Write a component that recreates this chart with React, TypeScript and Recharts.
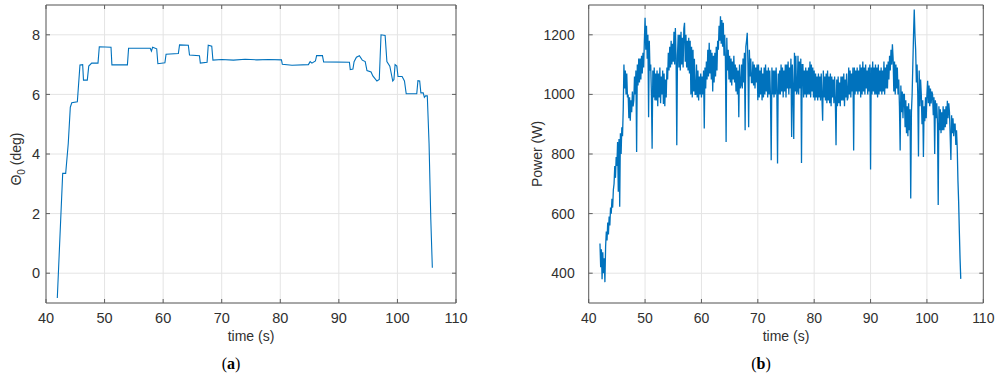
import { LineChart, Line, XAxis, YAxis, CartesianGrid, ReferenceLine } from 'recharts'

const timeTicks = [40, 50, 60, 70, 80, 90, 100, 110]
const thetaTicks = [0, 2, 4, 6, 8]
const powerTicks = [400, 600, 800, 1000, 1200]

// collective pitch trace (a), read at the step changes
const thetaTime = [
  41.93, 42.85, 43.36, 43.8, 44.15, 44.4, 45.35, 45.8, 46.26, 46.4, 47.05, 47.3, 47.8, 48.88,
  49.1, 51.1, 51.25, 53.9, 54.1, 57.8, 58.0, 58.2, 58.9, 59.1, 60.3, 60.5, 62.6, 62.8, 64.3,
  64.5, 66.2, 66.35, 67.5, 67.7, 68.3, 68.5, 70, 72, 74, 76, 78, 80.2, 80.35, 82, 84.8, 85.1,
  85.4, 86.0, 86.2, 87.2, 87.4, 91.8, 91.95, 92.4, 92.6, 93.0, 93.5, 94.0, 94.5, 94.8, 95.5,
  95.8, 96.5, 96.9, 97.2, 97.9, 98.2, 98.7, 99.2, 99.4, 99.6, 99.9, 100.1, 100.8, 101.2, 101.5,
  103.3, 103.5, 103.8, 104.0, 104.4, 104.6, 104.8, 105.1, 105.4, 105.7, 105.96,
]
const thetaDeg = [
  -0.83, 3.35, 3.35, 4.35, 5.57, 5.72, 5.75, 6.99, 7.0, 6.48, 6.48, 6.95, 7.05, 7.05,
  7.6, 7.58, 6.99, 6.99, 7.55, 7.55, 7.45, 7.58, 7.53, 7.03, 7.06, 7.35, 7.37, 7.66, 7.65,
  7.32, 7.3, 7.05, 7.08, 7.65, 7.62, 7.15, 7.17, 7.15, 7.18, 7.16, 7.17, 7.16, 7.01, 6.98, 7.0, 7.1,
  7.05, 7.12, 7.3, 7.3, 7.09, 7.08, 6.83, 6.85, 7.1, 7.25, 7.3, 7.15, 7.1, 6.8, 6.75,
  6.62, 6.45, 6.5, 8.0, 7.98, 7.1, 6.95, 6.45, 6.5, 7.0, 6.95, 6.6, 6.6, 6.45, 6.02,
  6.02, 6.46, 6.45, 6.05, 6.05, 5.9, 5.95, 5.95, 4.35, 1.79, 0.18,
]

// power trace (b), eight readings per second
const powerSeconds = [
  42, 43, 44, 45, 46, 47, 48, 49, 50, 51, 52, 53, 54, 55, 56, 57, 58, 59, 60, 61, 62, 63, 64,
  65, 66, 67, 68, 69, 70, 71, 72, 73, 74, 75, 76, 77, 78, 79, 80, 81, 82, 83, 84, 85, 86, 87,
  88, 89, 90, 91, 92, 93, 94, 95, 96, 97, 98, 99, 100, 101, 102, 103, 104, 105, 106,
]
const powerW = [
  [500, 420, 480, 380, 470, 400, 450, 370],
  [490, 540, 510, 570, 530, 590, 560, 620],
  [600, 650, 620, 680, 700, 760, 720, 790],
  [760, 840, 673, 850, 623, 870, 800, 890],
  [860, 950, 1100, 1020, 1080, 1000, 1070, 990],
  [1000, 920, 990, 912, 980, 940, 1010, 960],
  [980, 1060, 1000, 1080, 807, 1100, 1030, 1120],
  [1040, 1120, 1050, 1130, 1070, 1140, 1090, 1180],
  [1257, 1150, 1230, 1120, 1200, 923, 1180, 1080],
  [1100, 1000, 818, 1080, 990, 1090, 980, 1070],
  [980, 1080, 960, 1070, 990, 1090, 970, 1060],
  [1000, 1080, 968, 1070, 960, 1050, 990, 1090],
  [1050, 1140, 1080, 1160, 1090, 1180, 1100, 1170],
  [1110, 1210, 1100, 1223, 1120, 829, 1130, 1200],
  [1090, 1200, 1080, 1210, 1100, 1190, 1090, 1220],
  [1240, 1110, 1200, 1090, 1180, 1080, 1190, 1070],
  [1180, 1000, 1160, 990, 1150, 1010, 1120, 1000],
  [1000, 1100, 990, 1080, 980, 1060, 1000, 1070],
  [990, 1060, 1000, 1080, 886, 1090, 1020, 1110],
  [1050, 1150, 1060, 1173, 1070, 1150, 1050, 1140],
  [1010, 1130, 1040, 1140, 1060, 1160, 1080, 1180],
  [1150, 1230, 1180, 1262, 1170, 1250, 1160, 1240],
  [1130, 1200, 1120, 840, 1190, 1080, 1150, 1050],
  [1130, 1040, 1120, 1030, 1110, 1050, 1130, 1040],
  [1100, 1010, 1090, 1000, 1080, 923, 1100, 1020],
  [1030, 1100, 1020, 1120, 1040, 1140, 880, 1160],
  [1180, 1207, 1100, 890, 1150, 1060, 1120, 1040],
  [1040, 1110, 1030, 1100, 1020, 1090, 1040, 1100],
  [980, 1100, 990, 1080, 1000, 1090, 980, 1070],
  [990, 1090, 1000, 1100, 1010, 1080, 990, 1090],
  [1000, 1080, 990, 779, 1090, 1000, 1080, 990],
  [1080, 1000, 1090, 1010, 768, 1070, 1000, 1080],
  [1000, 1100, 1010, 1090, 990, 1080, 1010, 1100],
  [990, 1100, 1020, 1110, 1000, 1090, 1020, 1120],
  [857, 1100, 1020, 850, 1140, 1010, 1130, 1000],
  [1010, 1130, 1000, 1110, 1020, 1120, 770, 1100],
  [1100, 990, 1080, 1000, 1090, 990, 1080, 1000],
  [1090, 1000, 1110, 990, 1100, 1010, 1090, 990],
  [1080, 980, 1070, 990, 1060, 980, 1070, 990],
  [1060, 980, 1070, 990, 912, 1080, 990, 1060],
  [980, 1070, 970, 1080, 980, 1060, 970, 1070],
  [960, 1060, 990, 1050, 970, 1060, 980, 829],
  [1050, 960, 1060, 970, 1040, 960, 1060, 980],
  [1060, 980, 1070, 960, 1050, 990, 1070, 980],
  [990, 1090, 1000, 1080, 990, 1070, 1010, 1090],
  [812, 1090, 1000, 1080, 1010, 1090, 1000, 1080],
  [1010, 1100, 990, 1090, 1000, 1110, 1010, 1090],
  [1000, 1100, 1020, 1080, 1000, 1090, 1010, 1100],
  [748, 1090, 1000, 1110, 1010, 1090, 1000, 1100],
  [1000, 1090, 990, 1100, 1000, 1080, 1010, 1090],
  [1000, 1080, 1010, 1110, 1000, 1090, 1020, 1100],
  [1020, 1110, 1050, 1130, 1080, 1150, 1100, 1168],
  [1120, 1010, 1110, 1000, 1100, 1020, 1090, 1000],
  [1050, 960, 812, 1030, 940, 1010, 920, 1000],
  [1000, 890, 980, 870, 960, 860, 970, 880],
  [950, 651, 940, 1000, 1100, 1200, 1285, 1200],
  [1150, 1040, 1100, 1000, 792, 1080, 960, 1050],
  [1000, 900, 980, 790, 960, 910, 990, 920],
  [1000, 1046, 970, 1030, 960, 1020, 970, 1010],
  [1000, 930, 990, 800, 980, 920, 970, 900],
  [629, 960, 880, 950, 870, 940, 880, 960],
  [880, 950, 890, 960, 900, 979, 920, 970],
  [940, 860, 780, 930, 870, 920, 860, 900],
  [900, 830, 880, 820, 712, 640, 540, 450],
  [381],
]

const thetaData = thetaTime.map((t, i) => ({ t, v: thetaDeg[i] }))
const powerData = powerSeconds.flatMap((s, i) => powerW[i].map((w, k) => ({ t: s + k * 0.125, v: w })))

const BLUE = '#0072BD'
const GRID = '#e4e4e4'
const BOX = '#5e5e5e'
const TEXT = '#303030'
const FONT = '"Liberation Sans", Arial, Helvetica, sans-serif'
const TICK_LEN = 4
const PLOT_TOP = 5
const PLOT_H = 298

function makeXTick(margin: number, fontSize: number) {
  return (props: any) => {
    const { x, y, payload } = props
    const axisY = y - margin
    return (
      <g>
        <line x1={x} y1={axisY} x2={x} y2={axisY - TICK_LEN} stroke={BOX} />
        <line x1={x} y1={PLOT_TOP} x2={x} y2={PLOT_TOP + TICK_LEN} stroke={BOX} />
        <text x={x} y={y} dy="0.71em" textAnchor="middle" fill={TEXT} fontSize={fontSize} fontFamily={FONT}>
          {payload.value}
        </text>
      </g>
    )
  }
}

function makeYTick(margin: number, fontSize: number, plotRight: number) {
  return (props: any) => {
    const { x, y, payload } = props
    const axisX = x + margin
    return (
      <g>
        <line x1={axisX} y1={y} x2={axisX + TICK_LEN} y2={y} stroke={BOX} />
        <line x1={plotRight} y1={y} x2={plotRight - TICK_LEN} y2={y} stroke={BOX} />
        <text x={x} y={y} dy="0.36em" textAnchor="end" fill={TEXT} fontSize={fontSize} fontFamily={FONT}>
          {payload.value}
        </text>
      </g>
    )
  }
}

function ThetaChart() {
  const width = 470
  const right = 14
  return (
    <LineChart width={width} height={379} data={thetaData} margin={{ top: PLOT_TOP, right, bottom: 0, left: 0 }}>
      <CartesianGrid stroke={GRID} />
      <XAxis
        dataKey="t"
        type="number"
        domain={[40, 110]}
        ticks={timeTicks}
        height={379 - PLOT_TOP - PLOT_H}
        tickSize={0}
        tickMargin={10}
        tick={makeXTick(10, 14.5)}
        stroke={BOX}
        label={{
          content: () => (
            <text x={251} y={341} textAnchor="middle" fill={TEXT} fontSize={14} fontFamily={FONT}>
              time (s)
            </text>
          ),
        }}
      />
      <YAxis
        dataKey="v"
        type="number"
        domain={[-1, 9]}
        ticks={thetaTicks}
        width={46}
        tickSize={0}
        tickMargin={6}
        tick={makeYTick(6, 14.5, width - right)}
        stroke={BOX}
        label={{
          content: () => (
            <text transform="rotate(-90, 21, 159)" x={21} y={159} textAnchor="middle" fill={TEXT} fontSize={14} fontFamily={FONT}>
              Θ<tspan fontSize={10} dy={4}>0</tspan>
              <tspan dy={-4}> (deg)</tspan>
            </text>
          ),
        }}
      />
      <ReferenceLine y={9} stroke={BOX} />
      <ReferenceLine x={110} stroke={BOX} />
      <Line type="linear" dataKey="v" stroke={BLUE} strokeWidth={1.1} dot={false} isAnimationActive={false} />
    </LineChart>
  )
}

function PowerChart() {
  const width = 502
  const right = 18.7
  return (
    <LineChart width={width} height={379} data={powerData} margin={{ top: PLOT_TOP, right, bottom: 0, left: 0 }}>
      <CartesianGrid stroke={GRID} />
      <XAxis
        dataKey="t"
        type="number"
        domain={[40, 110]}
        ticks={timeTicks}
        height={379 - PLOT_TOP - PLOT_H}
        tickSize={0}
        tickMargin={10}
        tick={makeXTick(10, 14)}
        stroke={BOX}
        label={{
          content: () => (
            <text x={286} y={341} textAnchor="middle" fill={TEXT} fontSize={14} fontFamily={FONT}>
              time (s)
            </text>
          ),
        }}
      />
      <YAxis
        dataKey="v"
        type="number"
        domain={[300, 1300]}
        ticks={powerTicks}
        width={88.7}
        tickSize={0}
        tickMargin={14}
        tick={makeYTick(14, 14, width - right)}
        stroke={BOX}
        label={{
          content: () => (
            <text transform="rotate(-90, 42, 154)" x={42} y={154} textAnchor="middle" fill={TEXT} fontSize={14} fontFamily={FONT}>
              Power (W)
            </text>
          ),
        }}
      />
      <ReferenceLine y={1300} stroke={BOX} />
      <ReferenceLine x={110} stroke={BOX} />
      <Line type="linear" dataKey="v" stroke={BLUE} strokeWidth={1.3} dot={false} isAnimationActive={false} />
    </LineChart>
  )
}

const captionStyle: React.CSSProperties = {
  position: 'absolute',
  top: 356,
  width: 60,
  textAlign: 'center',
  fontFamily: '"Liberation Serif", "DejaVu Serif", serif',
  fontSize: 16,
  lineHeight: '16px',
  color: '#000',
}

export default function App() {
  return (
    <div style={{ position: 'absolute', left: 0, top: 0, width: 1002, height: 379, background: '#fff', overflow: 'hidden' }}>
      <div style={{ position: 'absolute', left: 0, top: 0 }}>
        <ThetaChart />
      </div>
      <div style={{ position: 'absolute', left: 500, top: 0 }}>
        <PowerChart />
      </div>
      <div style={{ ...captionStyle, left: 201 }}>
        (<b>a</b>)
      </div>
      <div style={{ ...captionStyle, left: 731 }}>
        (<b>b</b>)
      </div>
    </div>
  )
}
